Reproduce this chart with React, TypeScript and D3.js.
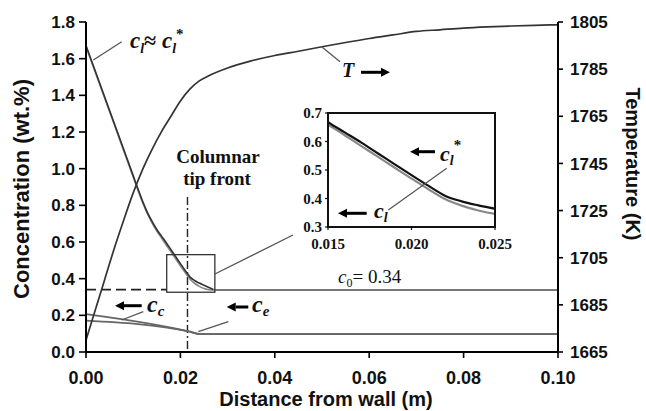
import React from "react";
import * as d3 from "d3";

// Distance from the wall (m) for the liquid concentration profiles
const clX = [0, 0.002, 0.004, 0.006, 0.008, 0.01, 0.011, 0.012, 0.013, 0.014, 0.015, 0.016, 0.017, 0.018, 0.019, 0.02, 0.021, 0.022, 0.023, 0.024, 0.025, 0.026, 0.027];
// Interface liquid concentration c_l* (wt.%)
const clStar = [1.672, 1.53, 1.388, 1.246, 1.104, 0.962, 0.89, 0.822, 0.762, 0.712, 0.668, 0.632, 0.596, 0.558, 0.52, 0.482, 0.445, 0.41, 0.39, 0.376, 0.364, 0.352, 0.341];
// Bulk liquid concentration c_l (wt.%)
const clBulk = [1.665, 1.523, 1.381, 1.239, 1.097, 0.955, 0.883, 0.814, 0.754, 0.703, 0.66, 0.622, 0.584, 0.546, 0.508, 0.47, 0.433, 0.398, 0.375, 0.358, 0.346, 0.34, 0.338];

// Temperature profile (K)
const tX = [0, 0.002, 0.004, 0.006, 0.008, 0.01, 0.012, 0.014, 0.016, 0.018, 0.02, 0.022, 0.024, 0.026, 0.03, 0.035, 0.04, 0.045, 0.05, 0.055, 0.06, 0.065, 0.07, 0.075, 0.08, 0.085, 0.09, 0.095, 0.1];
const tVal = [1670, 1683, 1696, 1709, 1721, 1732.5, 1742.5, 1751, 1758.5, 1765, 1771.5, 1776.5, 1780, 1782.2, 1785.5, 1788.5, 1790.8, 1792.6, 1794.5, 1796.3, 1798, 1799.5, 1801, 1801.7, 1802.4, 1802.9, 1803.3, 1803.6, 1803.8];

// Columnar (c_c) and equiaxed (c_e) concentrations (wt.%)
const solidX = [0, 0.022, 0.0242, 0.1];
const ccVal = [0.207, 0.111, 0.097, 0.097];
const ceVal = [0.171, 0.111, 0.097, 0.097];

const c0 = 0.34;
const tipFront = 0.0215;
const zoomBoxX = [0.0171, 0.0273];
const zoomBoxY = [0.326, 0.531];

const xTicks = [0, 0.02, 0.04, 0.06, 0.08, 0.1];
const yTicks = [0, 0.2, 0.4, 0.6, 0.8, 1.0, 1.2, 1.4, 1.6, 1.8];
const tTicks = [1665, 1685, 1705, 1725, 1745, 1765, 1785, 1805];
const insetXTicks = [0.015, 0.02, 0.025];
const insetYTicks = [0.3, 0.4, 0.5, 0.6, 0.7];

const SANS = "'Liberation Sans', Arial, sans-serif";
const SERIF = "'Liberation Serif', 'Times New Roman', serif";

function Arrow({ x1, x2, y, w = 3, head = 9 }: { x1: number; x2: number; y: number; w?: number; head?: number }) {
  const dir = x2 > x1 ? 1 : -1;
  const base = x2 - dir * head;
  return (
    <g>
      <line x1={x1} x2={base} y1={y} y2={y} stroke="#000" strokeWidth={w} />
      <polygon points={`${x2},${y} ${base},${y - head * 0.5} ${base},${y + head * 0.5}`} fill="#000" />
    </g>
  );
}

export default function App() {
  const x = d3.scaleLinear().domain([0, 0.1]).range([86, 558]);
  const y = d3.scaleLinear().domain([0, 1.8]).range([352, 22]);
  const yT = d3.scaleLinear().domain([1665, 1805]).range([352, 22]);

  const xi = d3.scaleLinear().domain([0.015, 0.025]).range([328, 495]);
  const yi = d3.scaleLinear().domain([0.3, 0.7]).range([227, 113]);

  const mainLine = (xs: number[], ys: number[], sy: d3.ScaleLinear<number, number>) =>
    d3.line<number>().x((_, i) => x(xs[i])).y((v) => sy(v)).curve(d3.curveMonotoneX)(ys) || "";
  const insetLine = (xs: number[], ys: number[]) =>
    d3.line<number>().x((_, i) => xi(xs[i])).y((v) => yi(v)).curve(d3.curveMonotoneX)(ys) || "";

  const fx = d3.format(".2f");
  const fy = d3.format(".1f");
  const fix = d3.format(".3f");

  return (
    <svg width={646} height={411} style={{ position: "absolute", left: 0, top: 0, background: "#fff" }}>
      <defs>
        <clipPath id="insetClip">
          <rect x={xi(0.015)} y={yi(0.7)} width={xi(0.025) - xi(0.015)} height={yi(0.3) - yi(0.7)} />
        </clipPath>
      </defs>

      {/* c0 reference line: dashed before the zoom box, solid beyond it */}
      <line x1={x(0)} x2={x(zoomBoxX[0])} y1={y(c0)} y2={y(c0)} stroke="#222" strokeWidth={1.6} strokeDasharray="10,5" />
      <line x1={x(0.027)} x2={x(0.1)} y1={y(0.338)} y2={y(0.338)} stroke="#777" strokeWidth={2} />

      {/* columnar tip front */}
      <line x1={x(tipFront)} x2={x(tipFront)} y1={197} y2={y(0)} stroke="#222" strokeWidth={1.4} strokeDasharray="8,3,2,3" />

      {/* solid phase concentrations */}
      <path d={mainLine(solidX, ccVal, y)} fill="none" stroke="#666" strokeWidth={1.8} />
      <path d={mainLine(solidX, ceVal, y)} fill="none" stroke="#666" strokeWidth={1.8} />

      {/* liquid concentrations */}
      <path d={mainLine(clX, clBulk, y)} fill="none" stroke="#888" strokeWidth={1.6} />
      <path d={mainLine(clX, clStar, y)} fill="none" stroke="#333" strokeWidth={1.6} />

      {/* temperature */}
      <path d={mainLine(tX, tVal, yT)} fill="none" stroke="#333" strokeWidth={1.7} />

      {/* zoom box and its leader to the inset */}
      <rect x={x(zoomBoxX[0])} y={y(zoomBoxY[1])} width={x(zoomBoxX[1]) - x(zoomBoxX[0])} height={y(zoomBoxY[0]) - y(zoomBoxY[1])} fill="none" stroke="#333" strokeWidth={1.3} />
      <line x1={x(zoomBoxX[1])} y1={274} x2={293} y2={235} stroke="#555" strokeWidth={1.3} />

      {/* axes */}
      <line x1={x(0)} x2={x(0)} y1={y(1.8)} y2={y(0)} stroke="#000" strokeWidth={2} />
      <line x1={x(0.1)} x2={x(0.1)} y1={y(1.8)} y2={y(0)} stroke="#000" strokeWidth={2} />
      <line x1={x(0)} x2={x(0.1)} y1={y(0)} y2={y(0)} stroke="#000" strokeWidth={2} />

      {yTicks.map((t) => (
        <g key={"y" + t}>
          <line x1={x(0) - 7} x2={x(0)} y1={y(t)} y2={y(t)} stroke="#000" strokeWidth={1.6} />
          <text x={x(0) - 11} y={y(t)} dy="0.36em" textAnchor="end" fontFamily={SANS} fontWeight="bold" fontSize={17} fill="#111">{fy(t)}</text>
        </g>
      ))}
      {tTicks.map((t) => (
        <g key={"t" + t}>
          <line x1={x(0.1)} x2={x(0.1) + 5} y1={yT(t)} y2={yT(t)} stroke="#000" strokeWidth={1.6} />
          <text x={x(0.1) + 12} y={yT(t)} dy="0.36em" textAnchor="start" fontFamily={SANS} fontWeight="bold" fontSize={17} fill="#111">{t}</text>
        </g>
      ))}
      {xTicks.map((t) => (
        <g key={"x" + t}>
          <line x1={x(t)} x2={x(t)} y1={y(0)} y2={y(0) + 6} stroke="#000" strokeWidth={1.6} />
          <text x={x(t)} y={384} textAnchor="middle" fontFamily={SANS} fontWeight="bold" fontSize={18} fill="#111">{fx(t)}</text>
        </g>
      ))}

      <text x={326} y={406} textAnchor="middle" fontFamily={SANS} fontWeight="bold" fontSize={20} fill="#111">Distance from wall (m)</text>
      <text transform={`translate(29,${(y(0) + y(1.8)) / 2 + 2}) rotate(-90)`} textAnchor="middle" fontFamily={SANS} fontWeight="bold" fontSize={22} fill="#111">Concentration (wt.%)</text>
      <text transform="translate(626,164) rotate(90)" textAnchor="middle" fontFamily={SANS} fontWeight="bold" fontSize={20} fill="#111">Temperature (K)</text>

      {/* annotations */}
      <line x1={121.7} y1={41.7} x2={93.3} y2={60} stroke="#555" strokeWidth={1.3} />
      <text x={130} y={48} fontFamily={SERIF} fontWeight="bold" fontStyle="italic" fontSize={23} fill="#111">
        c<tspan fontSize={14} dy={5}>l</tspan>
        <tspan dy={-5} fontStyle="normal" fontSize={22}>≈</tspan> c<tspan fontSize={14} dy={5}>l</tspan>
        <tspan fontSize={15} dy={-14} fontStyle="normal">*</tspan>
      </text>

      <line x1={321.7} y1={46.7} x2={340} y2={61.7} stroke="#555" strokeWidth={1.3} />
      <text x={342} y={77} fontFamily={SERIF} fontWeight="bold" fontStyle="italic" fontSize={20} fill="#111">T</text>
      <Arrow x1={361} x2={390} y={72.3} />

      <text x={218} y={163} textAnchor="middle" fontFamily={SERIF} fontWeight="bold" fontSize={19} fill="#111">Columnar</text>
      <text x={217} y={185} textAnchor="middle" fontFamily={SERIF} fontWeight="bold" fontSize={19} fill="#111">tip front</text>

      <text x={338} y={283} fontFamily={SERIF} fontSize={19} fill="#111">
        <tspan fontStyle="italic">c</tspan><tspan fontSize={12} dy={4}>0</tspan><tspan dy={-4}>= 0.34</tspan>
      </text>

      <Arrow x1={141.7} x2={115} y={305.7} />
      <text x={147} y={311.7} fontFamily={SERIF} fontWeight="bold" fontStyle="italic" fontSize={24} fill="#111">
        c<tspan fontSize={15} dy={4}>c</tspan>
      </text>
      <line x1={143.3} y1={311.7} x2={121.7} y2={320} stroke="#555" strokeWidth={1.3} />

      <Arrow x1={248.3} x2={226.7} y={307} />
      <text x={252} y={311.7} fontFamily={SERIF} fontWeight="bold" fontStyle="italic" fontSize={24} fill="#111">
        c<tspan fontSize={15} dy={4}>e</tspan>
      </text>
      <line x1={228.3} y1={321.7} x2={198.3} y2={331.7} stroke="#555" strokeWidth={1.3} />

      {/* inset: enlarged view of the liquid concentrations near the tip front */}
      <rect x={xi(0.015)} y={yi(0.7)} width={xi(0.025) - xi(0.015)} height={yi(0.3) - yi(0.7)} fill="#fff" />
      <g clipPath="url(#insetClip)">
        <path d={insetLine(clX, clBulk)} fill="none" stroke="#888" strokeWidth={2.2} />
        <path d={insetLine(clX, clStar)} fill="none" stroke="#111" strokeWidth={2.2} />
      </g>
      <rect x={xi(0.015)} y={yi(0.7)} width={xi(0.025) - xi(0.015)} height={yi(0.3) - yi(0.7)} fill="none" stroke="#111" strokeWidth={2} />
      {insetYTicks.map((t) => (
        <g key={"iy" + t}>
          <line x1={xi(0.015) - 3} x2={xi(0.015)} y1={yi(t)} y2={yi(t)} stroke="#111" strokeWidth={1.2} />
          <text x={xi(0.015) - 6} y={yi(t)} dy="0.35em" textAnchor="end" fontFamily={SERIF} fontWeight="bold" fontSize={15} fill="#111">{fy(t)}</text>
        </g>
      ))}
      {insetXTicks.map((t) => (
        <g key={"ix" + t}>
          <line x1={xi(t)} x2={xi(t)} y1={yi(0.3)} y2={yi(0.3) + 3} stroke="#111" strokeWidth={1.2} />
          <text x={xi(t)} y={249} textAnchor="middle" fontFamily={SERIF} fontWeight="bold" fontSize={15} fill="#111">{fix(t)}</text>
        </g>
      ))}
      <Arrow x1={435} x2={410} y={151.7} />
      <text x={440} y={161} fontFamily={SERIF} fontWeight="bold" fontStyle="italic" fontSize={22} fill="#111">
        c<tspan fontSize={14} dy={4}>l</tspan><tspan fontSize={15} dy={-15} fontStyle="normal">*</tspan>
      </text>
      <Arrow x1={366.7} x2={338} y={213.3} />
      <text x={374} y={218} fontFamily={SERIF} fontWeight="bold" fontStyle="italic" fontSize={22} fill="#111">
        c<tspan fontSize={14} dy={4}>l</tspan>
      </text>
      <line x1={388.3} y1={210} x2={446.7} y2={168.3} stroke="#555" strokeWidth={1.2} />
    </svg>
  );
}
